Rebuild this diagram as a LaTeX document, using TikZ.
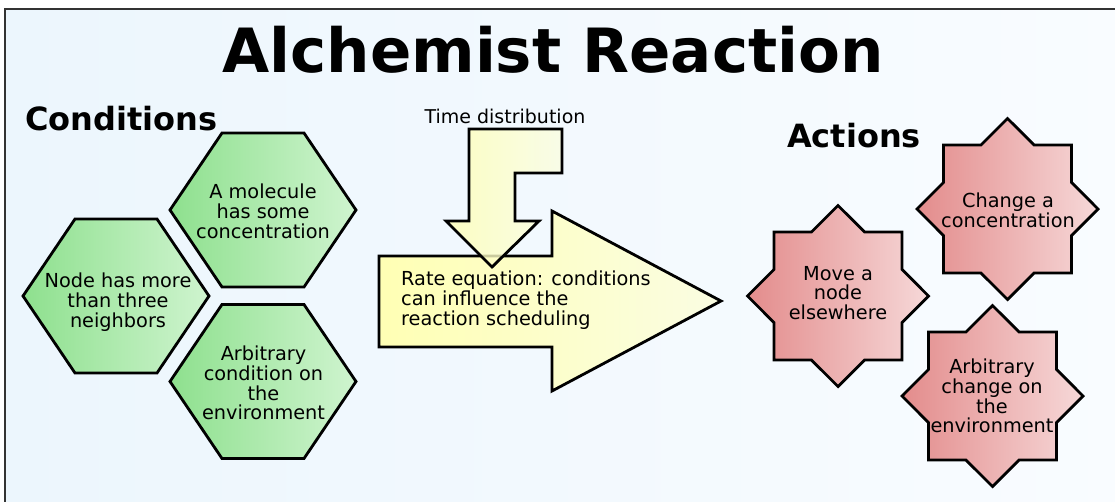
\documentclass[tikz,border=0pt]{standalone}
\usepackage{fontspec}
\setmainfont{DejaVu Sans}
\definecolor{pagebg}{HTML}{ECF6FD}
\definecolor{pagebgr}{HTML}{F9FCFF}
\definecolor{frameline}{HTML}{333333}
\definecolor{greenL}{HTML}{8EE08E}
\definecolor{greenR}{HTML}{CFF4CF}
\definecolor{yellowL}{HTML}{FFFFB4}
\definecolor{yellowR}{HTML}{FAFDE2}
\definecolor{redL}{HTML}{E38C8C}
\definecolor{redR}{HTML}{F6D8D8}
\begin{document}
\begin{tikzpicture}[x=1pt,y=-1pt,
  outline/.style={draw=black,line width=2.8pt,line join=miter},
  hexfill/.style={outline,left color=greenL,right color=greenR},
  starfill/.style={outline,left color=redL,right color=redR},
  arrowfill/.style={outline,left color=yellowL,right color=yellowR},
  body/.style={font=\fontsize{19.3}{19.8}\selectfont,inner sep=0pt,align=center},
  heading/.style={font=\fontsize{32}{36}\selectfont\bfseries,inner sep=0pt,anchor=base west},
  pics/hexcell/.style={code={
    \path[hexfill] (-93,0) -- (-41,-77) -- (41,-77) -- (93,0) -- (41,77) -- (-41,77) -- cycle;}},
  pics/octostar/.style={code={
    \path[starfill] (0:90.5) -- (22.5:69.3) -- (45:90.5) -- (67.5:69.3)
      -- (90:90.5) -- (112.5:69.3) -- (135:90.5) -- (157.5:69.3)
      -- (180:90.5) -- (202.5:69.3) -- (225:90.5) -- (247.5:69.3)
      -- (270:90.5) -- (292.5:69.3) -- (315:90.5) -- (337.5:69.3) -- cycle;}}]
\useasboundingbox (0,0) rectangle (1115,501);
\fill[white] (0,0) rectangle (1115,501);
% framed page with a faint blue wash
\path[left color=pagebg,right color=pagebgr,draw=frameline,line width=1.5pt]
  (5,9) rectangle (1130,520);

% title and section headings
\node[font=\fontsize{61}{64}\selectfont\bfseries,inner sep=0pt,anchor=base] (title) at (553,72) {Alchemist Reaction};
\node[heading] (condlabel) at (25,130) {Conditions};
\node[heading] (actlabel) at (787,147) {Actions};

% conditions: hexagonal cells
\pic at (263,210) {hexcell};
\pic at (116,296) {hexcell};
\pic at (263,381.5) {hexcell};
\node[body] (hexA) at (263,211) {A molecule\\has some\\concentration};
\node[body] (hexB) at (118,302) {Node has more\\than three\\neighbors};
\node[body] (hexC) at (263.5,383) {Arbitrary\\condition on\\the\\environment};

% rate arrow and the time distribution feeding into it
\path[arrowfill] (379,256) -- (552,256) -- (552,211) -- (721,301) -- (552,391)
  -- (552,347) -- (379,347) -- cycle;
\path[arrowfill,fill opacity=0.8] (469,129) -- (562,129) -- (562,173) -- (515,173)
  -- (515,221) -- (539,221) -- (492,267) -- (446,221) -- (469,221) -- cycle;
\node[font=\fontsize{19}{20}\selectfont,inner sep=0pt,anchor=base] (timelabel) at (505,123) {Time distribution};
\node[body,align=left,anchor=west] (rate) at (401,300) {Rate equation: conditions\\can influence the\\reaction scheduling};

% actions: eight-pointed stars
\pic at (1007.5,209) {octostar};
\pic at (838,296) {octostar};
\pic at (992.5,396) {octostar};
\node[body] (starA) at (1008,210) {Change a\\concentration};
\node[body] (starB) at (838,293) {Move a\\node\\elsewhere};
\node[body] (starC) at (992,396) {Arbitrary\\change on\\the\\environment};
\end{tikzpicture}
\end{document}
